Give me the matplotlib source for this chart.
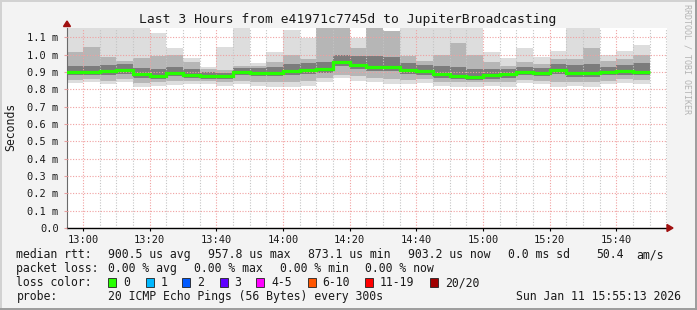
import numpy as np
import matplotlib
matplotlib.use("Agg")
import matplotlib.pyplot as plt
from matplotlib.lines import Line2D
from matplotlib.patches import Polygon, Rectangle

plt.rcParams['font.family'] = ['DejaVu Sans Mono']

W, H = 697, 310

# zeitachse: 5-min-schritte ab 12:55, fenster 12:55:13 .. 15:55:13 (minuten seit mitternacht)
t_first = 12 * 60 + 55
step = 5
view_start = 12 * 60 + 55 + 13 / 60
view_end = view_start + 180

# smoke pro intervall (ms): min, untere mitte, kern unten, median, kern oben, obere mitte, max
smoke_min = [0.837, 0.844, 0.828, 0.840, 0.811, 0.817, 0.825, 0.829, 0.830, 0.821,
             0.830, 0.821, 0.811, 0.815, 0.821, 0.840, 0.863, 0.850, 0.840, 0.829,
             0.829, 0.836, 0.821, 0.811, 0.815, 0.821, 0.815, 0.836, 0.829, 0.815,
             0.821, 0.811, 0.829, 0.836, 0.829]
smoke_lo = [0.855, 0.860, 0.850, 0.860, 0.835, 0.840, 0.850, 0.850, 0.850, 0.845,
            0.850, 0.845, 0.840, 0.845, 0.850, 0.865, 0.885, 0.875, 0.865, 0.860,
            0.855, 0.860, 0.845, 0.840, 0.840, 0.845, 0.845, 0.855, 0.850, 0.845,
            0.845, 0.840, 0.850, 0.860, 0.855]
core_lo = [0.880, 0.880, 0.885, 0.890, 0.865, 0.858, 0.875, 0.865, 0.860, 0.860,
           0.880, 0.875, 0.875, 0.885, 0.890, 0.895, 0.935, 0.915, 0.905, 0.905,
           0.890, 0.885, 0.865, 0.860, 0.855, 0.862, 0.868, 0.880, 0.875, 0.890,
           0.870, 0.870, 0.880, 0.885, 0.880]
median = [0.900, 0.900, 0.906, 0.912, 0.887, 0.875, 0.894, 0.883, 0.875, 0.875,
          0.900, 0.894, 0.894, 0.906, 0.910, 0.917, 0.958, 0.940, 0.929, 0.929,
          0.910, 0.906, 0.888, 0.877, 0.873, 0.881, 0.887, 0.900, 0.896, 0.912,
          0.896, 0.896, 0.900, 0.906, 0.903]
core_hi = [0.935, 0.935, 0.940, 0.945, 0.925, 0.915, 0.930, 0.915, 0.900, 0.895,
           0.925, 0.925, 0.930, 0.945, 0.950, 0.960, 1.000, 0.990, 0.990, 0.985,
           0.950, 0.940, 0.935, 0.930, 0.915, 0.915, 0.915, 0.930, 0.925, 0.945,
           0.940, 0.945, 0.930, 0.940, 0.950]
smoke_hi = [1.013, 1.044, 0.984, 0.965, 0.979, 0.990, 1.000, 0.960, 0.920, 0.910,
            0.936, 0.935, 0.960, 0.998, 0.975, 1.200, 1.200, 1.040, 1.200, 1.138,
            0.990, 0.965, 1.000, 1.070, 1.000, 0.955, 0.935, 0.955, 0.945, 0.975,
            0.975, 1.040, 0.965, 0.975, 1.000]
smoke_max = [1.200, 1.200, 1.200, 1.200, 1.200, 1.128, 1.036, 0.979, 0.931, 1.042,
             1.200, 0.950, 1.013, 1.142, 1.094, 1.200, 1.200, 1.094, 1.200, 1.138,
             1.200, 1.200, 1.200, 1.200, 1.200, 1.013, 0.979, 1.036, 0.984, 1.023,
             1.200, 1.200, 0.998, 1.023, 1.056]

x_labels = ["13:00", "13:20", "13:40", "14:00", "14:20", "14:40", "15:00", "15:20", "15:40"]
y_vals = [0.0, 0.1, 0.2, 0.3, 0.4, 0.5, 0.6, 0.7, 0.8, 0.9, 1.0, 1.1]
y_labels = ["0.0", "0.1 m", "0.2 m", "0.3 m", "0.4 m", "0.5 m", "0.6 m", "0.7 m",
            "0.8 m", "0.9 m", "1.0 m", "1.1 m"]

loss_labels = ["0", "1", "2", "3", "4-5", "6-10", "11-19", "20/20"]
loss_colors = ["#26ff00", "#00b8ff", "#0059ff", "#5e00ff", "#ff00ff", "#ff5500", "#ff0000", "#a00000"]


def fx(px):
    return px / W


def fy(py):
    return 1 - py / H


fig = plt.figure(figsize=(W / 100, H / 100), dpi=100, facecolor="#f3f3f3")
ax = fig.add_axes([fx(67), fy(228), 600 / W, 200 / H])
ax.set_facecolor("white")

edges = t_first + step * np.arange(len(median) + 1)

# smoke-baender, von aussen nach innen
ax.stairs(smoke_max, edges, baseline=smoke_min, fill=True, color="#dddddd", lw=0, zorder=1)
ax.stairs(smoke_hi, edges, baseline=smoke_lo, fill=True, color="#b6b6b6", lw=0, zorder=1.1)
ax.stairs(core_hi, edges, baseline=core_lo, fill=True, color="#7c7c7c", lw=0, zorder=1.2)
ax.stairs(median, edges, baseline=None, color="#26ff00", lw=2.3, zorder=3)

ax.set_xlim(view_start, view_end)
ax.set_ylim(0, 1.154)

major_t = [13 * 60 + 20 * i for i in range(len(x_labels))]
minor_t = np.arange(13 * 60, view_end, 5)
ax.set_xticks(major_t)
ax.set_xticklabels(x_labels)
ax.set_xticks(minor_t, minor=True)
ax.set_yticks(y_vals)
ax.set_yticklabels(y_labels)

ax.set_axisbelow(False)
ax.grid(True, which="major", color="#f0a0a0", lw=0.8, ls=(0, (1, 1.5)))
ax.grid(True, which="minor", axis="x", color="#c4c4c4", lw=0.8, ls=(0, (1, 1.5)))

ax.tick_params(axis="x", which="major", length=2.5, width=0.8, color="black",
               labelsize=7.5, pad=2.5, labelcolor="#1a1a1a")
ax.tick_params(axis="x", which="minor", length=0)
ax.tick_params(axis="y", which="major", length=2.5, width=0.8, color="#e8a0a0",
               labelsize=7.5, pad=3.5, labelcolor="#1a1a1a")

for s in ["top", "right"]:
    ax.spines[s].set_visible(False)
ax.spines["left"].set_color("#6a6a6a")
ax.spines["left"].set_linewidth(0.8)
ax.spines["bottom"].set_color("black")
ax.spines["bottom"].set_linewidth(1.0)

# pfeile an den achsen
arrow_col = "#a01010"
fig.patches.append(Polygon([(fx(63.5), fy(26.5)), (fx(70.5), fy(26.5)), (fx(67), fy(21))],
                           closed=True, color=arrow_col, transform=fig.transFigure))
fig.patches.append(Polygon([(fx(667), fy(224.5)), (fx(667), fy(231.5)), (fx(673), fy(228))],
                           closed=True, color=arrow_col, transform=fig.transFigure))

# rahmen
fig.lines.append(Line2D([0, 1], [fy(0.8), fy(0.8)], color="#d2d2d2", lw=1.4, transform=fig.transFigure))
fig.lines.append(Line2D([fx(0.8), fx(0.8)], [0, 1], color="#d2d2d2", lw=1.4, transform=fig.transFigure))
fig.lines.append(Line2D([0, 1], [fy(309.2), fy(309.2)], color="#9c9c9c", lw=1.4, transform=fig.transFigure))
fig.lines.append(Line2D([fx(696.2), fx(696.2)], [0, 1], color="#9c9c9c", lw=1.4, transform=fig.transFigure))

fig.text(fx(347.5), fy(19), "Last 3 Hours from e41971c7745d to JupiterBroadcasting",
         ha="center", va="center", fontsize=9.4, color="#1a1a1a")
fig.text(fx(10.5), fy(126.5), "Seconds", rotation=90, ha="center", va="center",
         fontsize=8.3, color="#1a1a1a")
fig.text(fx(687.5), fy(4), "RRDTOOL / TOBI OETIKER", rotation=270, ha="center", va="top",
         fontsize=6, color="#b4b4b4")

# legende
lsize = 8.3
lcol = "#1a1a1a"


def ltext(x, y, s, ha="left"):
    fig.text(fx(x), fy(y), s, ha=ha, va="center", fontsize=lsize, color=lcol)


r1, r2, r3, r4 = 254.5, 268.5, 282.5, 296.2
ltext(16.4, r1, "median rtt:")
ltext(107.6, r1, "900.5 us avg")
ltext(207.6, r1, "957.8 us max")
ltext(307.6, r1, "873.1 us min")
ltext(407.6, r1, "903.2 us now")
ltext(507.6, r1, "0.0 ms sd")
ltext(596.0, r1, "50.4")
ltext(636.0, r1, "am/s")

ltext(16.4, r2, "packet loss:")
ltext(107.6, r2, "0.00 % avg")
ltext(194.2, r2, "0.00 % max")
ltext(280.0, r2, "0.00 % min")
ltext(365.3, r2, "0.00 % now")

ltext(16.4, r3, "loss color:")
box_x = [108.4, 145.8, 182.2, 219.6, 256.4, 307.6, 365.3, 430.2]
lab_x = [123.6, 160.9, 197.3, 234.2, 271.1, 322.2, 380.0, 445.3]
for bx, lx, lab, col in zip(box_x, lab_x, loss_labels, loss_colors):
    fig.patches.append(Rectangle((fx(bx), fy(r3 + 4.5)), 8 / W, 9 / H, facecolor=col,
                                 edgecolor="#202020", lw=0.6, transform=fig.transFigure))
    ltext(lx, r3, lab)

ltext(16.4, r4, "probe:")
ltext(107.6, r4, "20 ICMP Echo Pings (56 Bytes) every 300s")
ltext(681.0, r4, "Sun Jan 11 15:55:13 2026", ha="right")

fig.savefig("out.png", dpi=100, facecolor=fig.get_facecolor())
